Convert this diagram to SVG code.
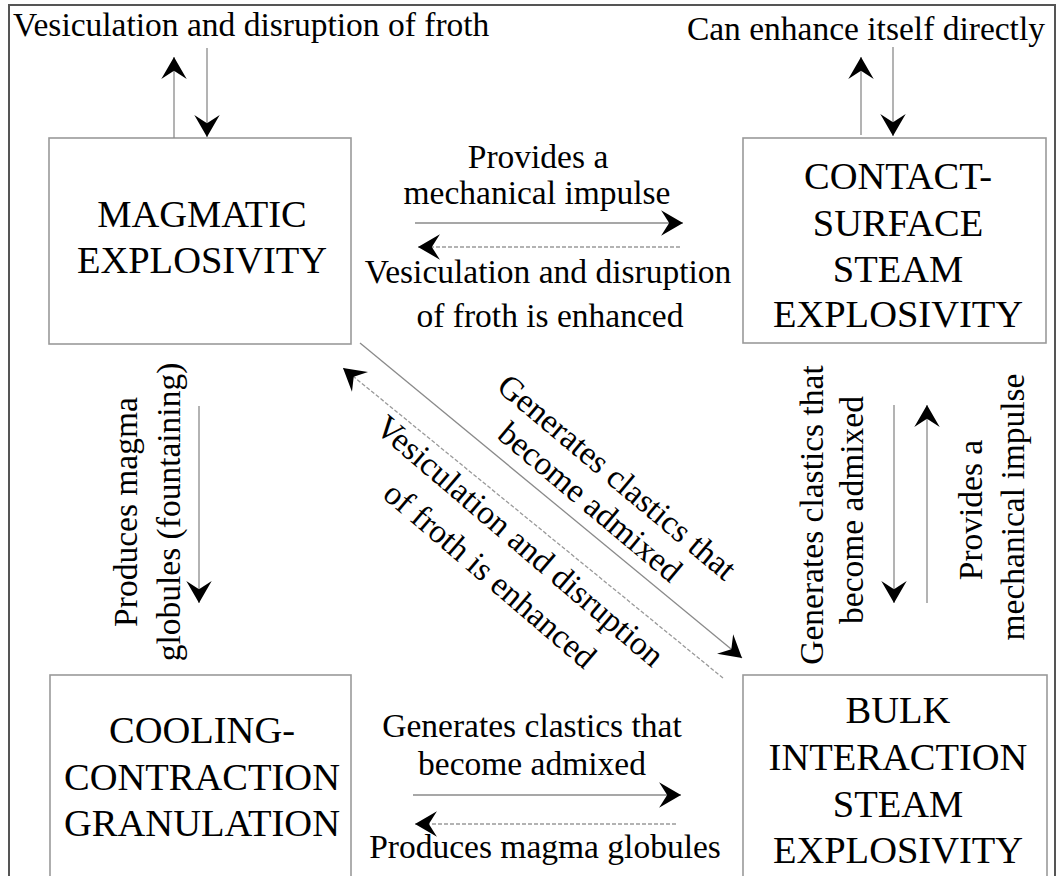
<svg xmlns="http://www.w3.org/2000/svg" width="1059" height="876" viewBox="0 0 1059 876">
<style>
.box{fill:#fff;stroke:#9a9a9a;stroke-width:1.6}
.node{font-family:"Liberation Serif","Times New Roman",serif;font-size:38.5px;fill:#000;text-anchor:middle}
.lbl{font-family:"Liberation Serif","Times New Roman",serif;font-size:33.5px;fill:#000;text-anchor:middle}
.solid{stroke:#8a8a8a;stroke-width:1.3;fill:none;marker-end:url(#ah)}
.dash{stroke:#9a9a9a;stroke-width:1.3;fill:none;stroke-dasharray:4 2;marker-end:url(#ah)}
</style>
<defs>
<marker id="ah" markerUnits="userSpaceOnUse" markerWidth="30" markerHeight="30" viewBox="-20 -13 22 26" refX="0" refY="0" orient="auto">
<path d="M0,0 L-19,-11 L-12,0 L-19,11 Z" fill="#000"/>
</marker>
</defs>
<rect x="9" y="5" width="1046" height="900" fill="#fff" stroke="#555" stroke-width="2"/>

<g id="magmatic" font-family="Liberation Serif, Times New Roman, serif">
<rect class="box" x="49" y="138" width="302" height="206"/>
<text class="node" x="202" y="227">MAGMATIC</text>
<text class="node" x="202" y="273">EXPLOSIVITY</text>
</g>
<g id="contact" font-family="Liberation Serif, Times New Roman, serif">
<rect class="box" x="743" y="138" width="303" height="205"/>
<text class="node" x="898" y="189">CONTACT-</text>
<text class="node" x="898" y="236">SURFACE</text>
<text class="node" x="898" y="282">STEAM</text>
<text class="node" x="898" y="327">EXPLOSIVITY</text>
</g>
<g id="cooling" font-family="Liberation Serif, Times New Roman, serif">
<rect class="box" x="50" y="675" width="301" height="230"/>
<text class="node" x="202" y="743">COOLING-</text>
<text class="node" x="202" y="790">CONTRACTION</text>
<text class="node" x="202" y="836">GRANULATION</text>
</g>
<g id="bulk" font-family="Liberation Serif, Times New Roman, serif">
<rect class="box" x="743" y="675" width="304" height="230"/>
<text class="node" x="898" y="723">BULK</text>
<text class="node" x="898" y="770">INTERACTION</text>
<text class="node" x="898" y="817">STEAM</text>
<text class="node" x="898" y="863">EXPLOSIVITY</text>
</g>

<g id="connectors">
<line class="solid" x1="174" y1="138" x2="174" y2="57"/>
<line class="solid" x1="207" y1="48" x2="207" y2="137"/>
<line class="solid" x1="861" y1="135" x2="861" y2="57"/>
<line class="solid" x1="893" y1="47" x2="893" y2="136"/>
<line class="solid" x1="415" y1="223" x2="683" y2="223"/>
<line class="dash" x1="680" y1="247" x2="418" y2="247"/>
<line class="solid" x1="199" y1="406" x2="199" y2="603"/>
<line class="solid" x1="894" y1="405" x2="894" y2="603"/>
<line class="solid" x1="927" y1="603" x2="927" y2="405"/>
<line class="solid" x1="360" y1="343" x2="742" y2="658"/>
<line class="dash" x1="723" y1="678" x2="343" y2="368"/>
<line class="solid" x1="413" y1="795" x2="681" y2="795"/>
<line class="dash" x1="676" y1="824" x2="415" y2="824"/>
</g>

<g id="labels" font-family="Liberation Serif, Times New Roman, serif">
<text class="lbl" x="13" y="36" style="text-anchor:start">Vesiculation and disruption of froth</text>
<text class="lbl" x="1045" y="40" style="text-anchor:end">Can enhance itself directly</text>
<text class="lbl" x="538" y="168">Provides a</text>
<text class="lbl" x="537" y="204">mechanical impulse</text>
<text class="lbl" x="548" y="283">Vesiculation and disruption</text>
<text class="lbl" x="550" y="327">of froth is enhanced</text>
<text class="lbl" transform="translate(137,512) rotate(-90)">Produces magma</text>
<text class="lbl" transform="translate(180,512) rotate(-90)">globules (fountaining)</text>
<text class="lbl" transform="translate(823,515) rotate(-90)">Generates clastics that</text>
<text class="lbl" transform="translate(863,510) rotate(-90)">become admixed</text>
<text class="lbl" transform="translate(982,510) rotate(-90)">Provides a</text>
<text class="lbl" transform="translate(1024,507) rotate(-90)">mechanical impulse</text>
<text class="lbl" transform="translate(617,477) rotate(40)" y="11">Generates clastics that</text>
<text class="lbl" transform="translate(590,502) rotate(40)" y="11">become admixed</text>
<text class="lbl" transform="translate(520,541) rotate(40.5)" y="11">Vesiculation and disruption</text>
<text class="lbl" transform="translate(490,575) rotate(40.5)" y="11">of froth is enhanced</text>
<text class="lbl" x="532" y="737">Generates clastics that</text>
<text class="lbl" x="532" y="775">become admixed</text>
<text class="lbl" x="545" y="858">Produces magma globules</text>
</g>
</svg>
